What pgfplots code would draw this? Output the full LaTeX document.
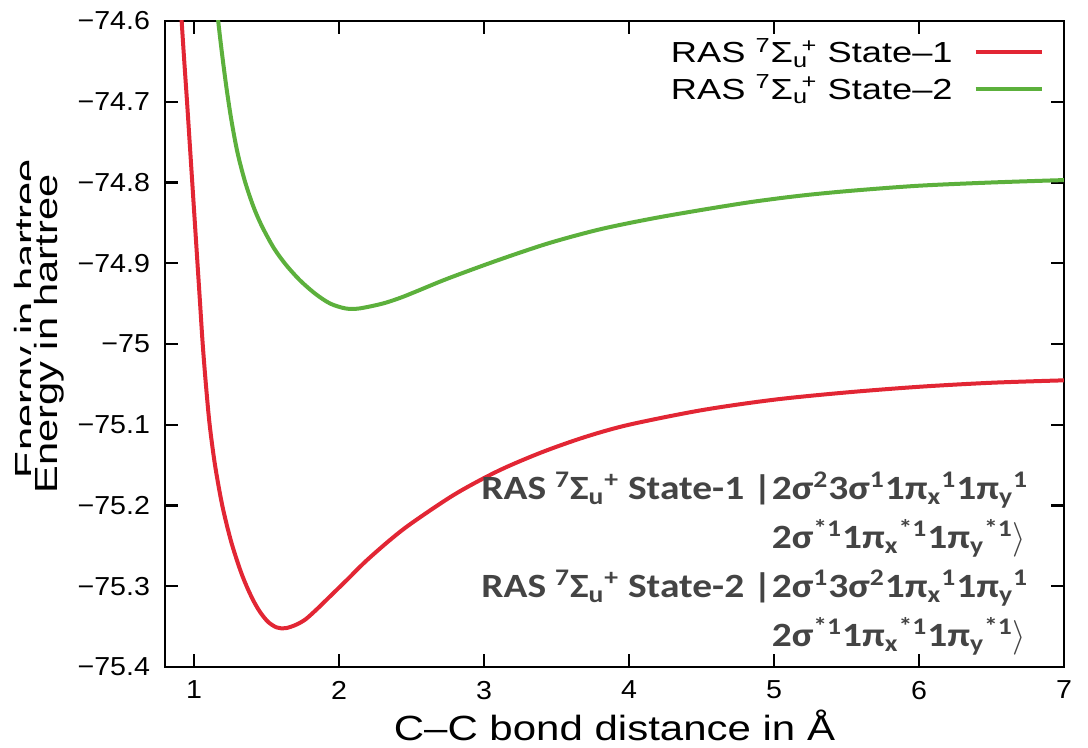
\documentclass[border=0pt]{standalone}
\usepackage{pgfplots}
\pgfplotsset{compat=1.18}
\usepackage{fontspec}
\setmainfont{Liberation Sans}[FakeStretch=1.1]
\newfontfamily\legfont{Liberation Sans}[FakeStretch=1.25]
\newfontfamily\labfont{Liberation Sans}[FakeStretch=1.2]
\newfontfamily\ylabfont{Liberation Sans}[FakeStretch=1.3]
\newfontfamily\annfont{Carlito}[FakeStretch=1.16]
\definecolor{cred}{RGB}{226,38,52}
\definecolor{cgreen}{RGB}{92,176,60}
\definecolor{anngray}{RGB}{68,68,68}

\pgfplotstableread{
x y
0.900 -74.55
0.915 -74.60
0.933 -74.65
0.952 -74.70
0.970 -74.75
0.988 -74.80
1.006 -74.85
1.024 -74.90
1.042 -74.95
1.060 -75.00
1.082 -75.05
1.108 -75.10
1.145 -75.15
1.195 -75.200
1.255 -75.244
1.317 -75.279
1.363 -75.300
1.410 -75.318
1.456 -75.332
1.510 -75.344
1.570 -75.351
1.630 -75.352
1.700 -75.348
1.769 -75.341
1.850 -75.328
1.930 -75.314
2.050 -75.293
2.185 -75.269
2.350 -75.243
2.500 -75.222
2.800 -75.186
3.100 -75.157
3.400 -75.134
3.700 -75.115
4.000 -75.100
4.500 -75.082
5.000 -75.069
5.500 -75.060
6.000 -75.053
6.500 -75.048
7.000 -75.045
}\stateone

\pgfplotstableread{
x y
1.140 -74.55
1.167 -74.600
1.195 -74.643
1.225 -74.684
1.259 -74.724
1.300 -74.763
1.352 -74.799
1.410 -74.830
1.468 -74.854
1.550 -74.881
1.630 -74.901
1.730 -74.921
1.838 -74.938
1.940 -74.950
2.046 -74.956
2.140 -74.956
2.300 -74.950
2.420 -74.943
2.532 -74.935
2.750 -74.919
3.100 -74.896
3.450 -74.875
3.800 -74.858
4.150 -74.845
4.500 -74.834
4.850 -74.824
5.200 -74.816
5.550 -74.810
6.000 -74.804
6.500 -74.800
7.000 -74.797
}\statetwo

\begin{document}
\begin{tikzpicture}
\useasboundingbox (-82.5pt,-40.5pt) rectangle (461.5pt,333.5pt);
\begin{axis}[
  scale only axis, width=449.5pt, height=323pt,
  xmin=0.8, xmax=7, ymin=-75.4, ymax=-74.6,
  xtick={1,2,3,4,5,6,7}, xticklabels={1,2,3,4,5,6,7},
  ytick={-75.4,-75.3,-75.2,-75.1,-75,-74.9,-74.8,-74.7,-74.6},
  yticklabels={−75.4,−75.3,−75.2,−75.1,−75,−74.9,−74.8,−74.7,−74.6},
  tick align=inside, major tick length=6.5pt,
  every tick/.style={black, line width=1.2pt},
  axis line style={black, line width=1.4pt},
  ticklabel style={font=\fontsize{13}{15}\selectfont},
  yticklabel style={xshift=-4pt},
  xticklabel style={yshift=-3.5pt},
  xlabel={C–C bond distance in Å},
  xlabel style={font=\labfont\fontsize{17.5}{20}\selectfont, at={(axis description cs:0.5,0)}, anchor=center, yshift=-29pt},
  legend plot pos=right,
  legend cell align=right,
  legend image code/.code={\draw[#1] (0pt,0pt) -- (33pt,0pt);},
  legend style={at={(axis description cs:1,1)}, anchor=north east, xshift=-7pt, yshift=-6pt,
    draw=none, fill=none, font=\legfont\fontsize{14.5}{17}\selectfont, row sep=3.5pt,
    nodes={inner sep=0.5pt},
    /tikz/every odd column/.append style={column sep=10pt}},
]
\addplot[cred, line width=2pt, smooth, tension=0.5] table[x=x,y=y] {\stateone};
\addlegendentry{RAS \textsuperscript{7}Σ\rlap{\textsubscript{u}}\hspace{0.3em}\textsuperscript{+} State–1}
\addplot[cgreen, line width=2pt, smooth, tension=0.5] table[x=x,y=y] {\statetwo};
\addlegendentry{RAS \textsuperscript{7}Σ\rlap{\textsubscript{u}}\hspace{0.3em}\textsuperscript{+} State–2}
\end{axis}
% y label with the ghost copy seen in the reference
\node[rotate=90, font=\ylabfont\fontsize{16}{18}\selectfont, inner sep=0pt] at (-67.75pt,174.25pt) {Energy in hartree};
\fill[white] (-67.2pt,70pt) rectangle (-46pt,270pt);
\node[rotate=90, font=\ylabfont\fontsize{16}{18}\selectfont, inner sep=0pt] at (-57.75pt,166.5pt) {Energy in hartree};
% annotation
\node[anchor=north west, inner sep=0pt, text=anngray,
  font=\annfont\bfseries\fontsize{17}{24.5}\selectfont] at (158pt,101pt) {%
\begin{tabular}{@{}r@{}l@{}}
RAS \textsuperscript{7}Σ\textsubscript{u}\textsuperscript{+} State-1 |&2σ\textsuperscript{2}3σ\textsuperscript{1}1π\textsubscript{x}\textsuperscript{1}1π\textsubscript{y}\textsuperscript{1}\\
 &2σ\textsuperscript{*1}1π\textsubscript{x}\textsuperscript{*1}1π\textsubscript{y}\textsuperscript{*1}$\rangle$\\
RAS \textsuperscript{7}Σ\textsubscript{u}\textsuperscript{+} State-2 |&2σ\textsuperscript{1}3σ\textsuperscript{2}1π\textsubscript{x}\textsuperscript{1}1π\textsubscript{y}\textsuperscript{1}\\
 &2σ\textsuperscript{*1}1π\textsubscript{x}\textsuperscript{*1}1π\textsubscript{y}\textsuperscript{*1}$\rangle$
\end{tabular}};
\end{tikzpicture}
\end{document}
